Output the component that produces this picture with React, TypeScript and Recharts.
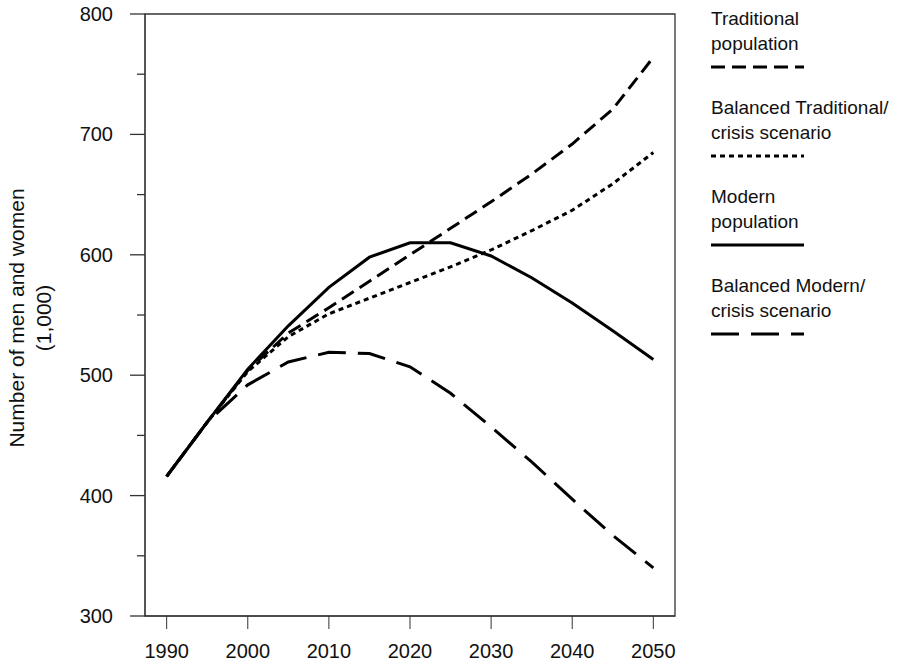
import React from 'react';
import {
  LineChart,
  Line,
  XAxis,
  YAxis,
  ReferenceArea,
} from 'recharts';

// Population projections, thousands, every 5 years
const years = [1990, 1995, 2000, 2005, 2010, 2015, 2020, 2025, 2030, 2035, 2040, 2045, 2050];
const traditional = [416, 461, 504, 535, 556, 578, 600, 622, 644, 667, 692, 721, 764];
const balancedTraditional = [416, 461, 503, 532, 551, 564, 577, 590, 604, 620, 637, 659, 685];
const modern = [416, 461, 505, 541, 573, 598, 610, 610, 599, 581, 560, 537, 513];
const balancedModern = [416, 461, 492, 511, 519, 518, 507, 485, 457, 428, 397, 367, 340];

const xTicks = [1990, 2000, 2010, 2020, 2030, 2040, 2050];
const yTicks = [300, 350, 400, 450, 500, 550, 600, 650, 700, 750, 800];

const FONT = '"Liberation Sans", Arial, Helvetica, sans-serif';
const INK = '#111';
const AXIS = '#333';

const series = [
  { key: 'traditional', lines: ['Traditional', 'population'], dash: '14 7' },
  { key: 'balancedTraditional', lines: ['Balanced Traditional/', 'crisis scenario'], dash: '5 4' },
  { key: 'modern', lines: ['Modern', 'population'], dash: undefined },
  { key: 'balancedModern', lines: ['Balanced Modern/', 'crisis scenario'], dash: '28 12' },
];

const data = years.map((year, i) => ({
  year,
  traditional: traditional[i],
  balancedTraditional: balancedTraditional[i],
  modern: modern[i],
  balancedModern: balancedModern[i],
}));

const Y_TICK_SIZE = 15;
const Y_TICK_GAP = 17;

// left axis: labelled ticks every 100, short unlabelled ticks in between
const YTick = (props: any) => {
  const { x, y, payload } = props;
  const axisX = x + Y_TICK_SIZE + Y_TICK_GAP;
  const major = payload.value % 100 === 0;
  return (
    <g>
      <line x1={axisX - (major ? Y_TICK_SIZE : 8)} y1={y} x2={axisX} y2={y} stroke={AXIS} strokeWidth={1.3} />
      {major && (
        <text x={x} y={y} dy={7} textAnchor="end" fontSize={20} fontFamily={FONT} fill={INK}>
          {payload.value}
        </text>
      )}
    </g>
  );
};

const AxisTitle = (props: any) => {
  const { viewBox } = props;
  const cy = viewBox.y + viewBox.height / 2 + 3;
  return (
    <g fontFamily={FONT} fontSize={21} fill={INK}>
      <text transform={`translate(24, ${cy}) rotate(-90)`} textAnchor="middle">
        Number of men and women
      </text>
      <text transform={`translate(51, ${cy}) rotate(-90)`} textAnchor="middle">
        (1,000)
      </text>
    </g>
  );
};

const Key = () => (
  <svg
    width={195}
    height={360}
    style={{ position: 'absolute', left: 705, top: 0 }}
  >
    {series.map((s, i) => {
      const top = 18 + i * 89;
      return (
        <g key={s.key}>
          {s.lines.map((t, j) => (
            <text
              key={t}
              x={6}
              y={top + j * 25 + 7}
              fontSize={19}
              fontFamily={FONT}
              fill={INK}
            >
              {t}
            </text>
          ))}
          <line
            x1={6}
            y1={top + 49}
            x2={99}
            y2={top + 49}
            stroke="#000"
            strokeWidth={3}
            strokeDasharray={s.dash}
          />
        </g>
      );
    })}
  </svg>
);

export default function App() {
  return (
    <div style={{ position: 'absolute', left: 0, top: 0, width: 900, height: 666, background: '#fff' }}>
      <LineChart
        width={900}
        height={666}
        data={data}
        margin={{ top: 14, right: 225, bottom: 0, left: 0 }}
      >
        <XAxis
          dataKey="year"
          type="number"
          domain={[1987.33, 2052.67]}
          allowDataOverflow
          ticks={xTicks}
          height={50}
          tickSize={13}
          tickMargin={15}
          stroke={AXIS}
          tick={{ fill: INK, fontSize: 20, fontFamily: FONT }}
        />
        <YAxis
          type="number"
          domain={[300, 800]}
          allowDataOverflow
          ticks={yTicks}
          interval={0}
          width={145}
          tickLine={false}
          tickSize={Y_TICK_SIZE}
          tickMargin={Y_TICK_GAP}
          stroke={AXIS}
          tick={<YTick />}
          label={<AxisTitle />}
        />
        <ReferenceArea
          x1={1987.33}
          x2={2052.67}
          y1={300}
          y2={800}
          fill="none"
          stroke={AXIS}
          strokeWidth={1.3}
          fillOpacity={0}
        />
        {series.map((s) => (
          <Line
            key={s.key}
            type="linear"
            dataKey={s.key}
            stroke="#000"
            strokeWidth={3}
            strokeDasharray={s.dash}
            dot={false}
            activeDot={false}
            isAnimationActive={false}
          />
        ))}
      </LineChart>
      <Key />
    </div>
  );
}
